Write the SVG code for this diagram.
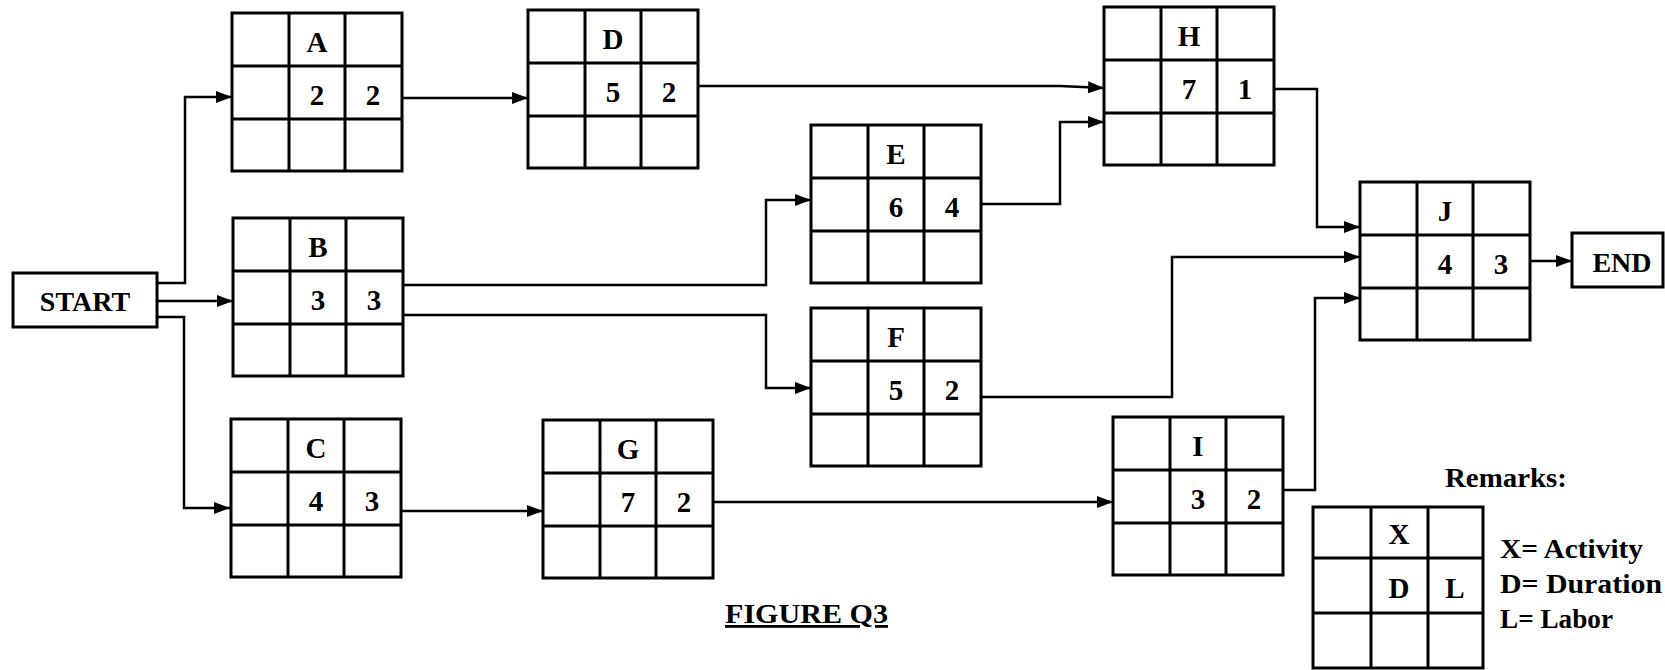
<svg xmlns="http://www.w3.org/2000/svg" xmlns:xlink="http://www.w3.org/1999/xlink" width="1665" height="670" viewBox="0 0 1665 670">
<style>
  .box { fill: #fff; stroke: #000; stroke-width: 3; }
  .gl { fill: none; stroke: #000; stroke-width: 3; }
  .t { font-family: 'Liberation Serif', 'DejaVu Serif', 'Times New Roman', Times, serif; font-weight: 700; font-size: 29px; fill: #000; text-anchor: middle; }
  .lbl { font-family: 'Liberation Serif', 'DejaVu Serif', 'Times New Roman', Times, serif; font-weight: 700; font-size: 28px; fill: #000; }
  .conn { fill: none; stroke: #000; stroke-width: 2.5; marker-end: url(#arr); }
</style>
<defs>
  <marker id="arr" markerWidth="16" markerHeight="12" refX="16" refY="6" orient="auto" markerUnits="userSpaceOnUse">
    <path d="M0,0L16,6L0,12z" fill="#000"/>
  </marker>
  <g id="grid">
    <rect class="box" x="0" y="0" width="170" height="158"/>
    <path class="gl" d="M57,0V158M113,0V158M0,53H170M0,106H170"/>
  </g>
</defs>
<rect width="1665" height="670" fill="#fff"/>

<g id="connectors">
  <path class="conn" d="M157,283H185V97H232"/>
  <path class="conn" d="M157,301H233"/>
  <path class="conn" d="M157,317H184V508H230"/>
  <path class="conn" d="M402,98H528"/>
  <path class="conn" d="M403,285H766V200H811"/>
  <path class="conn" d="M403,315H766V388H811"/>
  <path class="conn" d="M402,511H543"/>
  <path class="conn" d="M697,86H1060L1104,88"/>
  <path class="conn" d="M981,204H1060V122H1104"/>
  <path class="conn" d="M1275,89H1317V227H1360"/>
  <path class="conn" d="M981,397H1172V257H1360"/>
  <path class="conn" d="M714,502H1113"/>
  <path class="conn" d="M1284,490H1315V298H1360"/>
  <path class="conn" d="M1529,261H1572"/>
</g>

<g id="node-start">
  <rect class="box" x="13" y="273" width="144" height="54"/>
  <text class="lbl" x="85" y="311" text-anchor="middle" font-family="Liberation Serif, serif">START</text>
</g>

<g id="node-A" transform="translate(232,13)">
  <use xlink:href="#grid"/>
  <text class="t" x="85" y="39">A</text>
  <text class="t" x="85" y="92">2</text>
  <text class="t" x="141" y="92">2</text>
</g>
<g id="node-B" transform="translate(233,218)">
  <use xlink:href="#grid"/>
  <text class="t" x="85" y="39">B</text>
  <text class="t" x="85" y="92">3</text>
  <text class="t" x="141" y="92">3</text>
</g>
<g id="node-C" transform="translate(231,419)">
  <use xlink:href="#grid"/>
  <text class="t" x="85" y="39">C</text>
  <text class="t" x="85" y="92">4</text>
  <text class="t" x="141" y="92">3</text>
</g>
<g id="node-D" transform="translate(528,10)">
  <use xlink:href="#grid"/>
  <text class="t" x="85" y="39">D</text>
  <text class="t" x="85" y="92">5</text>
  <text class="t" x="141" y="92">2</text>
</g>
<g id="node-E" transform="translate(811,125)">
  <use xlink:href="#grid"/>
  <text class="t" x="85" y="39">E</text>
  <text class="t" x="85" y="92">6</text>
  <text class="t" x="141" y="92">4</text>
</g>
<g id="node-F" transform="translate(811,308)">
  <use xlink:href="#grid"/>
  <text class="t" x="85" y="39">F</text>
  <text class="t" x="85" y="92">5</text>
  <text class="t" x="141" y="92">2</text>
</g>
<g id="node-G" transform="translate(543,420)">
  <use xlink:href="#grid"/>
  <text class="t" x="85" y="39">G</text>
  <text class="t" x="85" y="92">7</text>
  <text class="t" x="141" y="92">2</text>
</g>
<g id="node-H" transform="translate(1104,7)">
  <use xlink:href="#grid"/>
  <text class="t" x="85" y="39">H</text>
  <text class="t" x="85" y="92">7</text>
  <text class="t" x="141" y="92">1</text>
</g>
<g id="node-I" transform="translate(1113,417)">
  <use xlink:href="#grid"/>
  <text class="t" x="85" y="39">I</text>
  <text class="t" x="85" y="92">3</text>
  <text class="t" x="141" y="92">2</text>
</g>
<g id="node-J" transform="translate(1360,182)">
  <use xlink:href="#grid"/>
  <text class="t" x="85" y="39">J</text>
  <text class="t" x="85" y="92">4</text>
  <text class="t" x="141" y="92">3</text>
</g>

<g id="node-end">
  <rect class="box" x="1572" y="233" width="91" height="54"/>
  <text class="lbl" x="1622" y="272" text-anchor="middle">END</text>
</g>

<g id="title">
  <text class="lbl" x="725" y="623" textLength="163" lengthAdjust="spacingAndGlyphs" text-decoration="underline">FIGURE Q3</text>
</g>

<g id="legend">
  <text class="lbl" x="1445" y="487" textLength="122" lengthAdjust="spacingAndGlyphs">Remarks:</text>
  <g transform="translate(1313,507)">
    <rect class="box" x="0" y="0" width="170" height="161"/>
    <path class="gl" d="M58,0V161M115,0V161M0,51H170M0,106H170"/>
    <text class="t" x="86" y="37">X</text>
    <text class="t" x="86" y="91">D</text>
    <text class="t" x="142" y="91">L</text>
  </g>
  <text class="lbl" x="1500" y="558" textLength="143" lengthAdjust="spacingAndGlyphs">X= Activity</text>
  <text class="lbl" x="1500" y="593" textLength="162" lengthAdjust="spacingAndGlyphs">D= Duration</text>
  <text class="lbl" x="1500" y="628" textLength="113" lengthAdjust="spacingAndGlyphs">L= Labor</text>
</g>
</svg>
